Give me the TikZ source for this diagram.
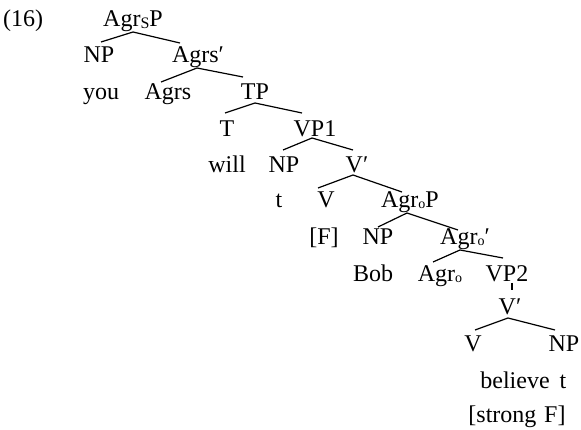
\documentclass[tikz,border=0pt]{standalone}
\usepackage{fontspec}
\setmainfont{Liberation Serif}
\newcommand\lblfont{\fontsize{24}{24}\selectfont}
% lowered small letters used as category subscripts
\newcommand\subS{\raisebox{-1.5pt}{\fontsize{16}{16}\selectfont S}}
\newcommand\subo{\raisebox{-1pt}{\fontsize{14}{14}\selectfont o}}
\newcommand\pr{′}
\begin{document}
\begin{tikzpicture}[x=1pt,y=-1pt,
  lab/.style={anchor=base, inner sep=0pt, font=\lblfont},
  branch/.style={line width=1.2pt}]
\useasboundingbox (0,0) rectangle (581,430);

% example number
\node[lab, anchor=base west] (num) at (3,27) {(16)};

% labels, placed by centre and baseline
\node[lab] (AgrsP)  at (133,27)  {Agr\subS P};
\node[lab] (NPa)    at (99,63)   {NP};
\node[lab] (Agrsb)  at (198,63)  {Agrs\pr};
\node[lab] (you)    at (101,100) {you};
\node[lab] (Agrs)   at (168,100) {Agrs};
\node[lab] (TP)     at (255,100) {TP};
\node[lab] (T)      at (227,137) {T};
\node[lab] (VPa)    at (315,137) {VP1};
\node[lab] (will)   at (227,173) {will};
\node[lab] (NPb)    at (284,173) {NP};
\node[lab] (Vba)    at (357,173) {V\pr};
\node[lab] (ta)     at (279,208) {t};
\node[lab] (Va)     at (326,208) {V};
\node[lab] (AgroP)  at (410,208) {Agr\subo P};
\node[lab] (F)      at (324,245) {[F]};
\node[lab] (NPc)    at (378,245) {NP};
\node[lab] (Agrob)  at (465,245) {Agr\subo\pr};
\node[lab] (Bob)    at (373,282) {Bob};
\node[lab] (Agro)   at (440,282) {Agr\subo};
\node[lab] (VPb)    at (507,282) {VP2};
\node[lab] (Vbb)    at (510,315) {V\pr};
\node[lab] (Vb)     at (473,352) {V};
\node[lab] (NPd)    at (564,352) {NP};
\node[lab] (believe) at (515,388) {believe};
\node[lab] (tb)     at (563,388) {t};
\node[lab] (strongF) at (517,422) {[strong\hspace{0.32em}F]};

% branches: from below the mother to above each daughter
\draw[branch] ([shift={(0,5)}]AgrsP.base) -- ([shift={(2,-21)}]NPa.base);
\draw[branch] ([shift={(0,5)}]AgrsP.base) -- ([shift={(-18,-20)}]Agrsb.base);
\draw[branch] ([shift={(-1,5)}]Agrsb.base) -- ([shift={(-7,-18)}]Agrs.base);
\draw[branch] ([shift={(-1,5)}]Agrsb.base) -- ([shift={(-12,-23)}]TP.base);
\draw[branch] ([shift={(0,3)}]TP.base) -- ([shift={(-2,-24)}]T.base);
\draw[branch] ([shift={(0,3)}]TP.base) -- ([shift={(-13,-24)}]VPa.base);
\draw[branch] ([shift={(-3,1)}]VPa.base) -- ([shift={(-1,-23)}]NPb.base);
\draw[branch] ([shift={(-3,1)}]VPa.base) -- ([shift={(-4,-23)}]Vba.base);
\draw[branch] ([shift={(-4,2)}]Vba.base) -- ([shift={(-8,-20)}]Va.base);
\draw[branch] ([shift={(-4,2)}]Vba.base) -- ([shift={(-8,-16)}]AgroP.base);
\draw[branch] ([shift={(-3,5)}]AgroP.base) -- ([shift={(0,-18)}]NPc.base);
\draw[branch] ([shift={(-3,5)}]AgroP.base) -- ([shift={(-7,-15)}]Agrob.base);
\draw[branch] ([shift={(-5,5)}]Agrob.base) -- ([shift={(-7,-20)}]Agro.base);
\draw[branch] ([shift={(-5,5)}]Agrob.base) -- ([shift={(-4,-24)}]VPb.base);
\draw[branch] ([shift={(5,1)}]VPb.base) -- ([shift={(2,-25)}]Vbb.base);
\draw[branch] ([shift={(-2,3)}]Vbb.base) -- ([shift={(2,-22)}]Vb.base);
\draw[branch] ([shift={(-2,3)}]Vbb.base) -- ([shift={(-9,-22)}]NPd.base);
\end{tikzpicture}
\end{document}
